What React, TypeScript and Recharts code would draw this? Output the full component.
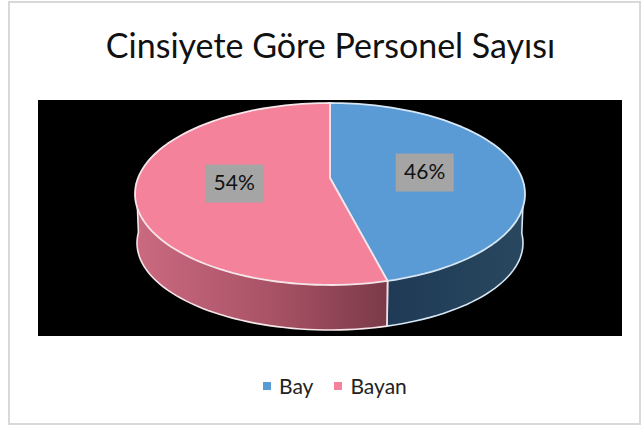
import React from "react";
import { PieChart, Pie, Legend } from "recharts";

const categories = ["Bay", "Bayan"];
const shareValues = [46, 54];
const topColors = ["#5b9bd5", "#f4829a"];
const edgeColors = ["#d5e6f5", "#f6e6ea"];
const percentLabels = ["46%", "54%"];
const titleText = "Cinsiyete Göre Personel Sayısı";

const chartData = categories.map((name, i) => ({
  name,
  value: shareValues[i],
  fill: topColors[i],
  label: percentLabels[i],
}));

const W = 633;
const H = 424;
const OFFX = 8;
const OFFY = 1;
const CX = 322;
const CY = 193;
const RX_RATIO = 91 / 195;
const TILT = -0.176;
const DEPTH = 49;
const BASE_RX = 193 / 195;
const BASE_RY = 87 / 91;

function project(angleDeg: number, frac: number) {
  const t = (angleDeg * Math.PI) / 180;
  const u = Math.cos(t) * frac;
  const v = -Math.sin(t) * frac;
  const d = 1 + TILT * v;
  return { u: (u * Math.sqrt(1 - TILT * TILT)) / d, v: (v + TILT) / d };
}

function samples(a0: number, a1: number) {
  const n = Math.max(2, Math.ceil(Math.abs(a1 - a0) / 2));
  const out: number[] = [];
  for (let i = 0; i <= n; i++) out.push(a0 + ((a1 - a0) * i) / n);
  return out;
}

function PieSector(props: any) {
  const { cx, cy, outerRadius: r, startAngle, endAngle, fill, index } = props;
  const ry = r * RX_RATIO;
  const top = (p: { u: number; v: number }) => [cx + p.u * r, cy + p.v * ry];
  const base = (p: { u: number; v: number }) => [
    cx + p.u * r * BASE_RX,
    cy + DEPTH + p.v * ry * BASE_RY,
  ];
  const angles = samples(startAngle, endAngle);
  const rim = angles.map((a) => project(a, 1));
  const centre = project(0, 0);
  const topPath =
    "M" +
    [top(centre), ...rim.map(top)].map((q) => q.join(",")).join("L") +
    "Z";
  const front = rim.filter((p) => p.v >= -0.14);
  const wallPath =
    "M" +
    [...front.map(top), ...front.slice().reverse().map(base)]
      .map((q) => q.join(","))
      .join("L") +
    "Z";
  const outline =
    index === 0
      ? [top(front[0]), ...front.map(base)]
      : [...front.map(base), top(front[front.length - 1])];
  const basePath = "M" + outline.map((q) => q.join(",")).join("L");
  const divider = index === 0 ? front[front.length - 1] : front[0];
  const [dx0, dy0] = top(divider);
  const [dx1, dy1] = base(divider);
  return (
    <g>
      <path d={wallPath} fill={`url(#wall${index})`} stroke="none" />
      <path d={basePath} fill="none" stroke={edgeColors[index]} strokeWidth={1.6} />
      <line x1={dx0} y1={dy0} x2={dx1} y2={dy1} stroke="#f0dde2" strokeWidth={1.8} />
      <path d={topPath} fill={fill} stroke={edgeColors[index]} strokeWidth={1.8} strokeLinejoin="round" />
    </g>
  );
}

function PercentLabel(props: any) {
  const { cx, cy, outerRadius: r, midAngle, payload } = props;
  const p = project(midAngle, 0.5);
  const x = cx + p.u * r;
  const y = cy + p.v * r * RX_RATIO;
  return (
    <g>
      <rect x={x - 28.5} y={y - 19} width={58} height={38} fill="#a5a5a5" />
      <text
        x={x + 0.5}
        y={y + 1}
        textAnchor="middle"
        dominantBaseline="middle"
        fontFamily="Lato"
        fontSize={21}
        fill="#111111"
      >
        {payload.label}
      </text>
    </g>
  );
}

function LegendRow(props: any) {
  const items = props.payload || [];
  return (
    <div style={{ display: "flex", alignItems: "center", fontFamily: "Lato", fontSize: 21, color: "#222222", lineHeight: "24px" }}>
      {items.map((it: any, i: number) => (
        <span key={it.value} style={{ display: "flex", alignItems: "center", marginRight: i === 0 ? 21 : 0 }}>
          <span style={{ display: "inline-block", width: 8, height: 8, background: it.color, marginRight: 8 }} />
          {it.value}
        </span>
      ))}
    </div>
  );
}

export default function App() {
  return (
    <div style={{ position: "absolute", left: OFFX, top: OFFY, width: W, height: H }}>
      <div
        style={{
          position: "absolute",
          inset: 0,
          boxSizing: "border-box",
          border: "2px solid #d9d9d9",
          background: "#ffffff",
        }}
      />
      <div
        style={{
          position: "absolute",
          left: 30,
          top: 99,
          width: 584,
          height: 236,
          background: "#000000",
        }}
      />
      <PieChart
        width={W}
        height={H}
        margin={{ top: 0, right: 0, bottom: 0, left: 0 }}
        style={{ position: "absolute", left: 0, top: 0 }}
      >
        <defs>
          <linearGradient id="wall0" x1="0" y1="0" x2="1" y2="0">
            <stop offset="0" stopColor="#1f3a55" />
            <stop offset="1" stopColor="#29485f" />
          </linearGradient>
          <linearGradient id="wall1" x1="0" y1="0" x2="1" y2="0">
            <stop offset="0" stopColor="#cb6a80" />
            <stop offset="0.55" stopColor="#a85265" />
            <stop offset="1" stopColor="#7b3a48" />
          </linearGradient>
        </defs>
        <text
          x={322.5}
          y={57}
          textAnchor="middle"
          fontFamily="Lato"
          fontSize={34}
          fill="#111111"
        >
          {titleText}
        </text>
        <Pie
          data={chartData}
          dataKey="value"
          nameKey="name"
          cx={CX}
          cy={CY}
          innerRadius={0}
          outerRadius={195}
          startAngle={90}
          endAngle={-270}
          stroke="none"
          isAnimationActive={false}
          shape={PieSector}
          label={PercentLabel}
          labelLine={false}
        />
        <Legend
          content={LegendRow}
          wrapperStyle={{ position: "absolute", left: 255, top: 373, width: "auto" }}
        />
      </PieChart>
    </div>
  );
}
